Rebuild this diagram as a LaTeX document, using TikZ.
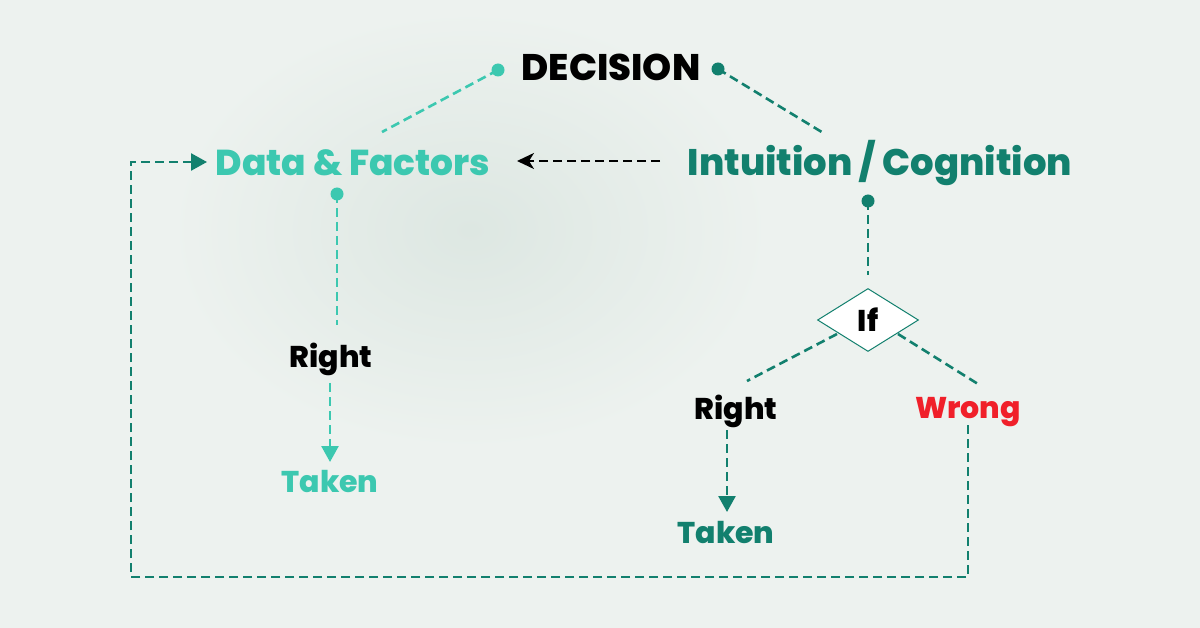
\documentclass[tikz,border=0pt]{standalone}
\usepackage{fontspec}
\setmainfont{Poppins}[BoldFont={Poppins ExtraBold}]
\usetikzlibrary{arrows.meta,shapes.geometric}
\definecolor{lteal}{HTML}{3CC8B0}
\definecolor{dteal}{HTML}{12806E}
\definecolor{wred}{HTML}{F0202A}
\definecolor{bg}{HTML}{EDF2EF}
\definecolor{bgdark}{HTML}{DDE7E2}
\begin{document}
\begin{tikzpicture}[x=1pt,y=-1pt,
  txt/.style={font=\bfseries\fontsize{#1}{#1}\selectfont, inner sep=0pt, anchor=base},
  dln/.style={dash pattern=on 9pt off 5pt, line width=2.6pt},
  tip/.style={-{Triangle[length=16pt,width=17pt]}},
  dotc/.style={circle, inner sep=0pt, minimum size=13pt}]
\useasboundingbox (0,0) rectangle (1200,628);
\fill[bg] (0,0) rectangle (1200,628);
\shade[inner color=bgdark, outer color=bg] (470,230) ellipse (300 and 220);
% texts
\node[txt=37, text=black] (dec) at (611,81) {DECISION};
\node[txt=36, text=lteal] (data) at (353,176) {Data \& Factors};
\node[txt=37, text=dteal] (intu) at (880,176) {Intuition / Cognition};
\node[txt=30, text=black] (r1) at (331,367) {Right};
\node[txt=30, text=lteal] (t1) at (330,492) {Taken};
\node[txt=30, text=black] (r2) at (736,419) {Right};
\node[txt=30, text=dteal] (t2) at (726,543) {Taken};
\node[txt=30, text=wred] (wr) at (968,418) {Wrong};
\node[diamond, draw=dteal, fill=white, line width=1pt, minimum width=101pt, minimum height=63pt, inner sep=0pt] (if) at (868,320) {};
\node[txt=30, text=black] at (868,332) {If};
% dots
\node[dotc, fill=lteal] (d1) at (498,70) {};
\node[dotc, fill=dteal] (d2) at (718,69) {};
\node[dotc, fill=lteal] (d3) at (337,194) {};
\node[dotc, fill=dteal] (d4) at (868,201) {};
% coordinates
\coordinate (a1) at (382,132);
\coordinate (a2) at (825,134);
\coordinate (b1) at (660,161);
\coordinate (b2) at (517,161);
\coordinate (c1) at (337,325);
\coordinate (e1) at (330,383);
\coordinate (e2) at (330,462);
\coordinate (f1) at (868,275);
\coordinate (g1) at (837,334);
\coordinate (g2) at (747,381);
\coordinate (h1) at (898,334);
\coordinate (h2) at (978,384);
\coordinate (i1) at (727,430);
\coordinate (i2) at (727,512);
\coordinate (w1) at (968,425);
\coordinate (w2) at (968,577);
\coordinate (w3) at (131,577);
\coordinate (w4) at (131,162);
\coordinate (w5) at (207,162);
% connectors
\draw[dln, lteal] (d1.center) -- (a1);
\draw[dln, dteal] (d2.center) -- (a2);
\draw[dln, black, line width=2.2pt, -{Stealth[length=17pt,width=16pt,inset=5pt]}] (b1) -- (b2);
\draw[dln, lteal] (d3.center) -- (c1);
\draw[dln, lteal, tip] (e1) -- (e2);
\draw[dln, dteal] (d4.center) -- (f1);
\draw[dln, dteal] (g1) -- (g2);
\draw[dln, dteal] (h1) -- (h2);
\draw[dln, dteal, tip] (i1) -- (i2);
\draw[dln, dteal, tip] (w1) -- (w2) -- (w3) -- (w4) -- (w5);
\end{tikzpicture}
\end{document}
